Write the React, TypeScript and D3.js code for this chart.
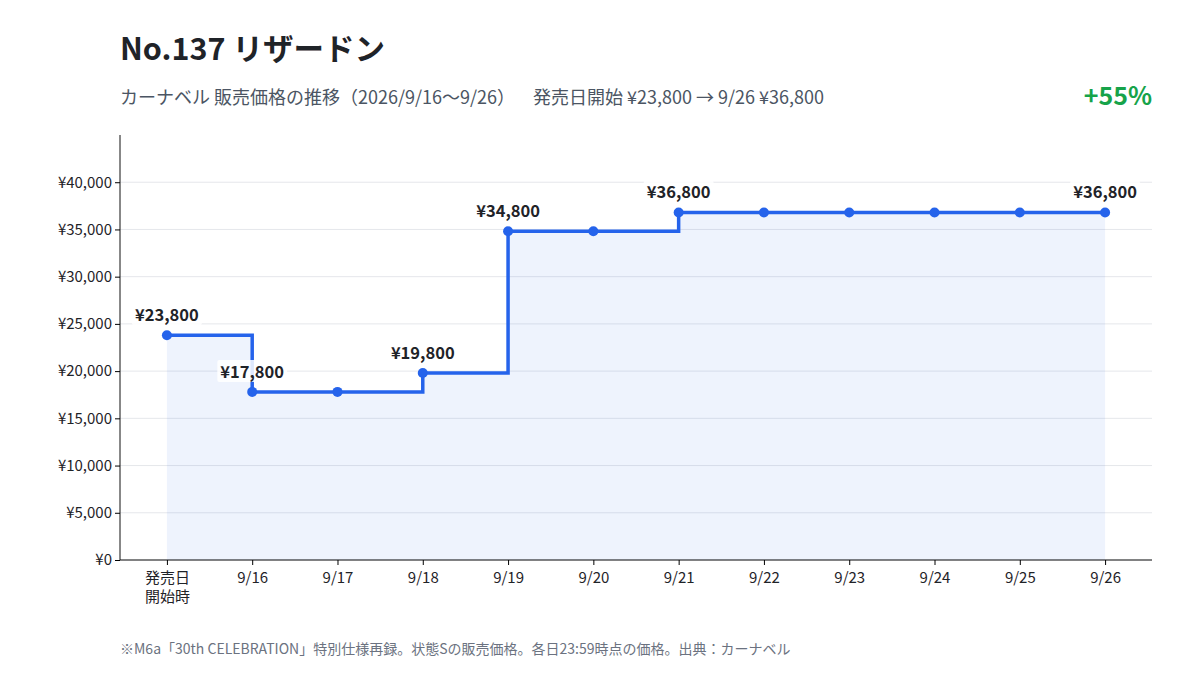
import { useEffect, useRef } from 'react';
import * as d3 from 'd3';

const dates = ['発売日\n開始時', '9/16', '9/17', '9/18', '9/19', '9/20', '9/21', '9/22', '9/23', '9/24', '9/25', '9/26'];
const prices = [23800, 17800, 17800, 19800, 34800, 34800, 36800, 36800, 36800, 36800, 36800, 36800];
const labelled = [0, 1, 3, 4, 6, 11];
const yTicks = [0, 5000, 10000, 15000, 20000, 25000, 30000, 35000, 40000];

const W = 1200;
const H = 675;
const FONT = '"Noto Sans CJK JP", "Noto Sans", sans-serif';

export default function App() {
  const svgRef = useRef<SVGSVGElement>(null);

  useEffect(() => {
    const svg = d3.select(svgRef.current);
    svg.selectAll('*').remove();

    const left = 120, right = 1152, top = 135, bottom = 560;
    const x = d3.scalePoint<number>().domain(d3.range(dates.length)).range([left, right]).padding(0.55);
    const y = d3.scaleLinear().domain([0, 45000]).range([bottom, top]);
    const fmt = (v: number) => '¥' + d3.format(',')(v);

    svg.append('rect').attr('width', W).attr('height', H).attr('fill', '#fff');

    // header
    svg.append('text').attr('x', 120).attr('y', 60).attr('font-size', 30.5).attr('font-weight', 700)
      .attr('fill', '#1f2328').text('No.137 リザードン');
    const sub = svg.append('text').attr('y', 104).attr('font-size', 18).attr('fill', '#4b5563');
    sub.append('tspan').attr('x', 120).text('カーナベル 販売価格の推移（2026/9/16〜9/26）');
    sub.append('tspan').attr('x', 533).text('発売日開始 ¥23,800 → 9/26 ¥36,800');
    svg.append('text').attr('x', 1152).attr('y', 105).attr('font-size', 25).attr('font-weight', 700)
      .attr('text-anchor', 'end').attr('fill', '#16a34a').text('+55%');

    // grid
    svg.append('g').selectAll('line').data(yTicks).enter().append('line')
      .attr('x1', left).attr('x2', right).attr('y1', d => y(d)).attr('y2', d => y(d))
      .attr('stroke', '#e5e7eb').attr('stroke-width', 1);

    // area + line
    const area = d3.area<number>().x((_, i) => x(i)!).y0(y(0)).y1(d => y(d)).curve(d3.curveStepAfter);
    svg.append('path').datum(prices).attr('d', area).attr('fill', '#2563eb').attr('fill-opacity', 0.08);
    const line = d3.line<number>().x((_, i) => x(i)!).y(d => y(d)).curve(d3.curveStepAfter);
    svg.append('path').datum(prices).attr('d', line).attr('fill', 'none')
      .attr('stroke', '#2563eb').attr('stroke-width', 3.5);

    svg.append('g').selectAll('circle').data(prices).enter().append('circle')
      .attr('cx', (_, i) => x(i)!).attr('cy', d => y(d)).attr('r', 5).attr('fill', '#2563eb');

    // axes
    const yAxis = svg.append('g').attr('transform', `translate(${left},0)`)
      .call(d3.axisLeft(y).tickValues(yTicks).tickFormat(d => fmt(d as number)).tickSize(5).tickSizeOuter(0));
    yAxis.attr('font-size', null).attr('font-family', null);
    yAxis.select('.domain').attr('d', `M0,${top}V${bottom}`).attr('stroke', '#111');
    yAxis.selectAll('text').attr('font-size', 15).attr('fill', '#1f2328');

    const xAxis = svg.append('g').attr('transform', `translate(0,${bottom})`)
      .call(d3.axisBottom(x).tickFormat(() => '').tickSize(5).tickSizeOuter(0));
    xAxis.attr('font-size', null).attr('font-family', null);
    xAxis.select('.domain').attr('d', `M${left},0H${right}`).attr('stroke', '#111');
    xAxis.selectAll('.tick').each(function (d) {
      const t = d3.select(this).append('text').attr('fill', '#1f2328').attr('font-size', 15)
        .attr('text-anchor', 'middle');
      dates[d as number].split('\n').forEach((s, k) => {
        t.append('tspan').attr('x', 0).attr('y', 23 + k * 19).text(s);
      });
    });

    // value labels
    const lab = svg.append('g');
    labelled.forEach(i => {
      const g = lab.append('g');
      const txt = g.append('text').attr('x', x(i)!).attr('y', y(prices[i]) - 14)
        .attr('text-anchor', 'middle').attr('font-size', 16.5).attr('font-weight', 700)
        .attr('fill', '#1f2328').text(fmt(prices[i]));
      const bb = (txt.node() as SVGTextElement).getBBox();
      g.insert('rect', 'text').attr('x', bb.x - 3).attr('y', bb.y + 1).attr('width', bb.width + 6)
        .attr('height', bb.height - 2).attr('fill', '#fff').attr('fill-opacity', 0.85).attr('rx', 2);
    });

    // footnote
    svg.append('text').attr('x', 120).attr('y', 654).attr('font-size', 14).attr('fill', '#6b7280')
      .text('※M6a「30th CELEBRATION」特別仕様再録。状態Sの販売価格。各日23:59時点の価格。出典：カーナベル');
  }, []);

  return (
    <svg ref={svgRef} width={W} height={H} viewBox={`0 0 ${W} ${H}`}
      style={{ display: 'block', position: 'absolute', left: 0, top: 0, fontFamily: FONT }} />
  );
}
